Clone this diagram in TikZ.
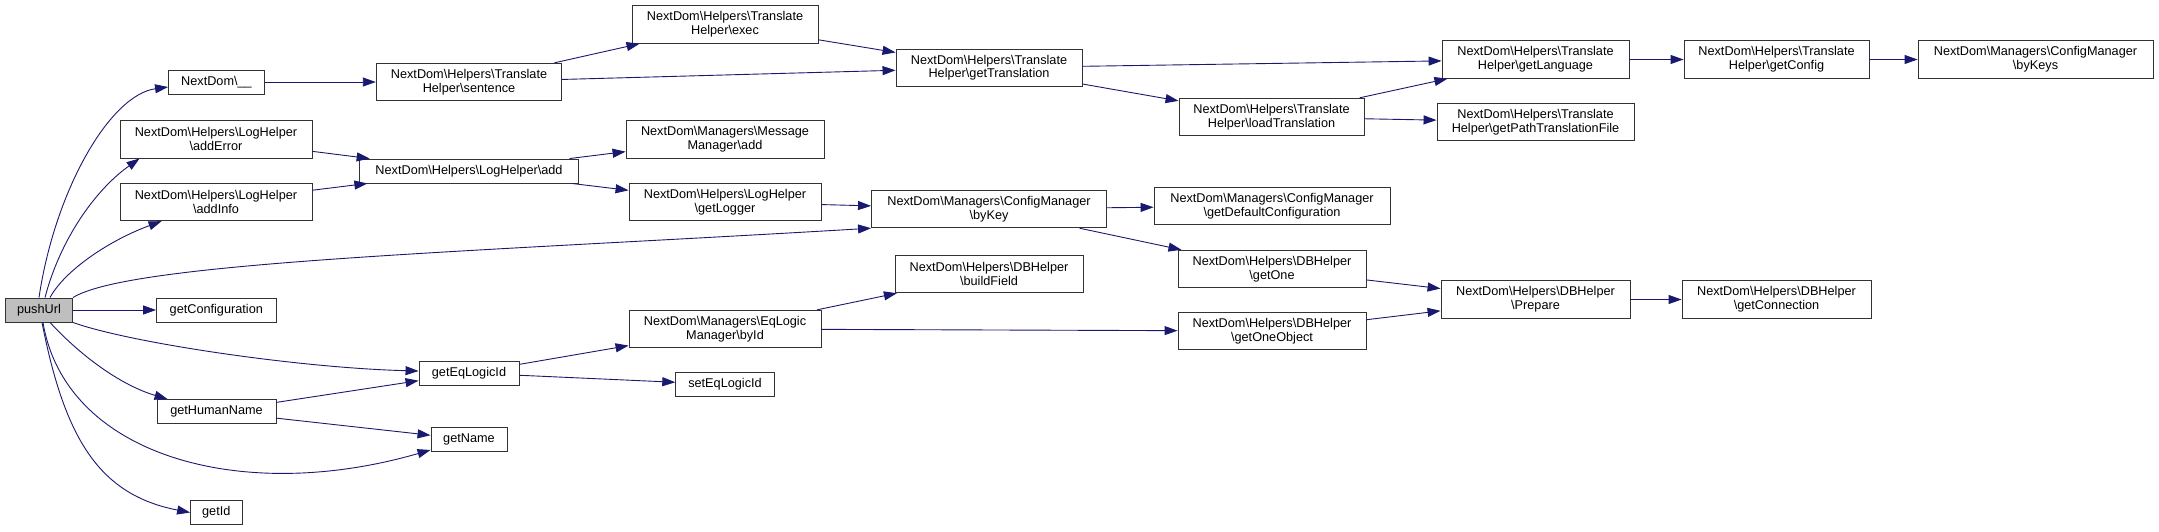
\documentclass[tikz,border=0pt]{standalone}
\usepackage{fontspec}
\setmainfont{Liberation Sans}
\usepackage{xcolor}
\definecolor{cgedge}{HTML}{191970}
\definecolor{cgroot}{HTML}{BFBFBF}
\definecolor{cgline}{HTML}{333333}
\usepackage{tikz}
\usetikzlibrary{arrows.meta}

\newcommand{\bs}{\textbackslash}

\begin{document}
\begin{tikzpicture}[x=1pt,y=-1pt,
  fn/.style={draw=cgline,line width=0.9pt,fill=white,inner sep=1pt,align=center,
    minimum height=24,font=\fontsize{12.7}{13.7}\selectfont},
  fn2/.style={fn,minimum height=37.5},
  call/.style={draw=cgedge,line width=0.9pt,-{Triangle[length=13pt,width=9pt]}}]
\useasboundingbox (0,0) rectangle (2159,531);
% first column
\node[fn,fill=cgroot,minimum width=67] (pushUrl) at (39,310) {pushUrl};
% second column
\node[fn,minimum width=96] (nsUnder) at (216.5,82) {NextDom\bs\_\_};
\node[fn2,minimum width=192] (addError) at (216,139.3) {NextDom\bs Helpers\bs LogHelper\\\bs addError};
\node[fn2,minimum width=192] (addInfo) at (216,202) {NextDom\bs Helpers\bs LogHelper\\\bs addInfo};
\node[fn,minimum width=119.5] (getConfiguration) at (216.3,310) {getConfiguration};
\node[fn,minimum width=119] (getHumanName) at (216.5,411.5) {getHumanName};
\node[fn,minimum width=51.5] (getId) at (216.3,512.5) {getId};
% third column
\node[fn2,minimum width=185.5] (sentence) at (469,82) {NextDom\bs Helpers\bs Translate\\Helper\bs sentence};
\node[fn,minimum width=218.5] (logAdd) at (469,171) {NextDom\bs Helpers\bs LogHelper\bs add};
\node[fn,minimum width=100] (getEqLogicId) at (469,373) {getEqLogicId};
\node[fn,minimum width=76] (getName) at (469,439.5) {getName};
% fourth column
\node[fn2,minimum width=186] (exec) at (725,24.5) {NextDom\bs Helpers\bs Translate\\Helper\bs exec};
\node[fn2,minimum width=198] (msgAdd) at (725,139.3) {NextDom\bs Managers\bs Message\\Manager\bs add};
\node[fn2,minimum width=192] (getLogger) at (725,202) {NextDom\bs Helpers\bs LogHelper\\\bs getLogger};
\node[fn2,minimum width=192] (byId) at (725,329) {NextDom\bs Managers\bs EqLogic\\Manager\bs byId};
\node[fn,minimum width=98.5] (setEqLogicId) at (725,384.5) {setEqLogicId};
% fifth column
\node[fn2,minimum width=186] (getTranslation) at (989,67.7) {NextDom\bs Helpers\bs Translate\\Helper\bs getTranslation};
\node[fn2,minimum width=235] (byKey) at (989,209) {NextDom\bs Managers\bs ConfigManager\\\bs byKey};
\node[fn2,minimum width=188] (buildField) at (989,274) {NextDom\bs Helpers\bs DBHelper\\\bs buildField};
% sixth column
\node[fn2,minimum width=185] (loadTranslation) at (1271.5,117) {NextDom\bs Helpers\bs Translate\\Helper\bs loadTranslation};
\node[fn2,minimum width=236] (getDefaultConf) at (1272,206) {NextDom\bs Managers\bs ConfigManager\\\bs getDefaultConfiguration};
\node[fn2,minimum width=188] (getOne) at (1272,269) {NextDom\bs Helpers\bs DBHelper\\\bs getOne};
\node[fn2,minimum width=188] (getOneObject) at (1272,331) {NextDom\bs Helpers\bs DBHelper\\\bs getOneObject};
% seventh column
\node[fn2,minimum width=187] (getLanguage) at (1535.5,59.5) {NextDom\bs Helpers\bs Translate\\Helper\bs getLanguage};
\node[fn2,minimum width=197] (getPathFile) at (1535.5,122) {NextDom\bs Helpers\bs Translate\\Helper\bs getPathTranslationFile};
\node[fn2,minimum width=189] (prepare) at (1535.5,299.5) {NextDom\bs Helpers\bs DBHelper\\\bs Prepare};
% last columns
\node[fn2,minimum width=185] (getConfig) at (1776.5,59.5) {NextDom\bs Helpers\bs Translate\\Helper\bs getConfig};
\node[fn2,minimum width=189] (getConnection) at (1776.5,299.5) {NextDom\bs Helpers\bs DBHelper\\\bs getConnection};
\node[fn2,minimum width=235] (byKeys) at (2035.5,59.5) {NextDom\bs Managers\bs ConfigManager\\\bs byKeys};

% calls from pushUrl
\draw[call] (pushUrl.north) .. controls (55,190) and (110,95) .. ([yshift=-5]nsUnder.west);
\draw[call] ([xshift=6]pushUrl.north) .. controls (60,240) and (95,190) .. ([xshift=20]addError.south west);
\draw[call] ([xshift=11]pushUrl.north) .. controls (65,270) and (110,240) .. ([xshift=42]addInfo.south west);
\draw[call] (pushUrl.north east) .. controls (130,262) and (470,252) .. (byKey.south west);
\draw[call] (pushUrl) -- (getConfiguration);
\draw[call] (pushUrl.south east) .. controls (130,343) and (300,368) .. ([yshift=2]getEqLogicId.west);
\draw[call] ([xshift=11]pushUrl.south) .. controls (80,355) and (120,385) .. ([xshift=11]getHumanName.north west);
\draw[call] ([xshift=4]pushUrl.south) .. controls (65,455) and (240,505) .. ([yshift=2]getName.south west);
\draw[call] ([xshift=3]pushUrl.south) .. controls (65,440) and (100,495) .. (getId.west);
% translation
\draw[call] (nsUnder) -- (sentence);
\draw[call] (sentence) -- (exec);
\draw[call] (sentence) -- (getTranslation);
\draw[call] (exec) -- (getTranslation);
\draw[call] (getTranslation) -- (getLanguage);
\draw[call] (getTranslation) -- (loadTranslation);
\draw[call] (loadTranslation) -- (getLanguage);
\draw[call] (loadTranslation) -- (getPathFile);
\draw[call] (getLanguage) -- (getConfig);
\draw[call] (getConfig) -- (byKeys);
% log helper
\draw[call] (addError) -- (logAdd);
\draw[call] (addInfo) -- (logAdd);
\draw[call] (logAdd) -- (msgAdd);
\draw[call] (logAdd) -- (getLogger);
\draw[call] (getLogger) -- (byKey);
\draw[call] (byKey) -- (getDefaultConf);
\draw[call] (byKey) -- (getOne);
% db helper
\draw[call] (getOne) -- (prepare);
\draw[call] (getOneObject) -- (prepare);
\draw[call] (prepare) -- (getConnection);
\draw[call] (getEqLogicId) -- (byId);
\draw[call] (getEqLogicId) -- (setEqLogicId);
\draw[call] (byId) -- (buildField);
\draw[call] (byId) -- (getOneObject);
\draw[call] (getHumanName) -- (getEqLogicId);
\draw[call] (getHumanName) -- (getName);
\end{tikzpicture}
\end{document}
